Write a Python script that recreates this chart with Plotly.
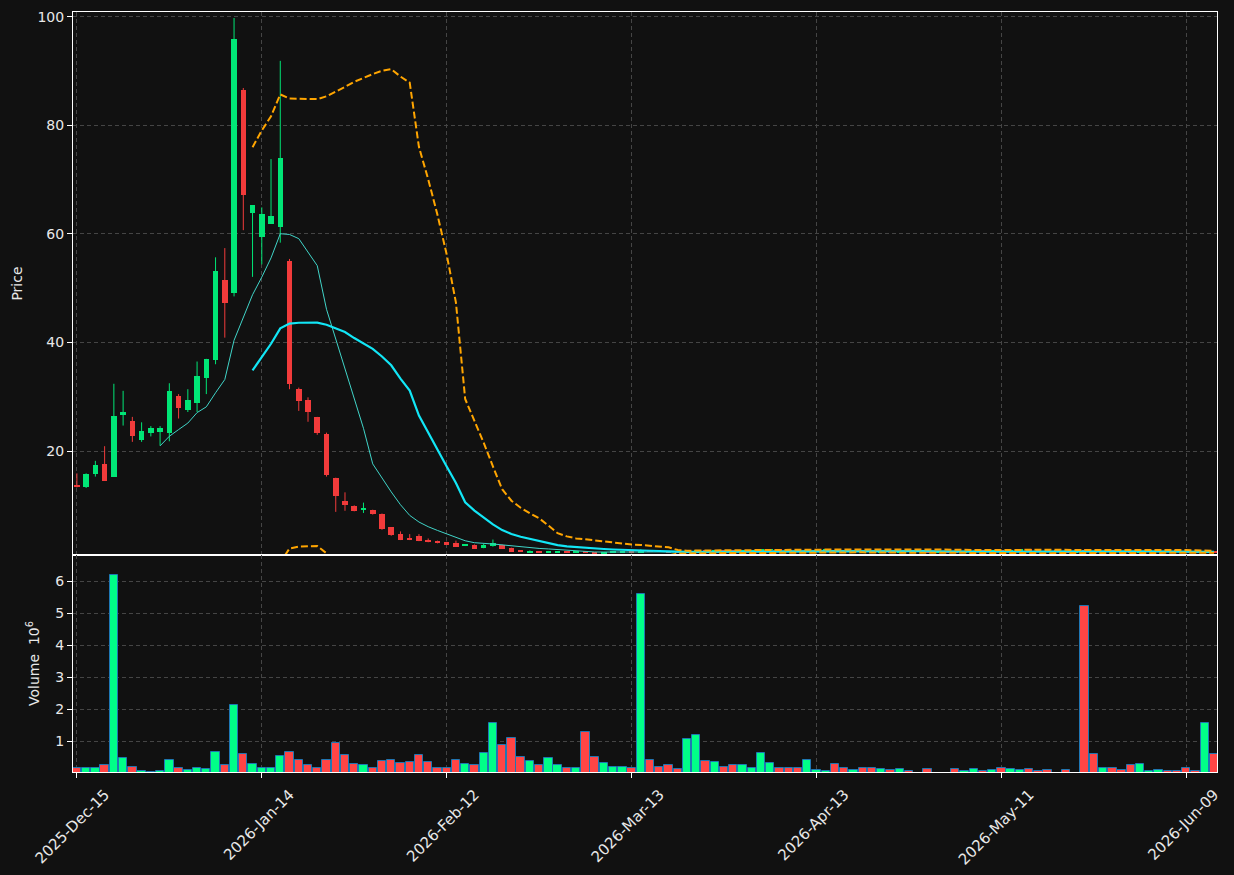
import plotly.graph_objects as go
import pandas as pd

# ---------------- data ----------------
open_ = [13.75, 13.3, 15.8, 17.6, 15.3, 26.6, 25.5, 22.0, 23.4, 23.5,
         23.4, 30.2, 27.6, 28.9, 33.4, 36.8, 51.6, 49.1, 86.6, 63.9,
         59.5, 61.9, 61.3, 55.0, 31.4, 29.4, 26.2, 23.2, 15.1, 10.8,
         9.9, 9.2, 9.1, 8.4, 6.0, 4.7, 4.0, 4.4, 3.6, 3.4,
         3.2, 3.0, 2.6, 2.7, 2.2, 2.5, 2.7, 2.1, 1.6, 1.3,
         1.45, 1.35, 1.4, 1.5, 1.35, 1.50, 1.32, 1.22, 1.32, 1.38,
         1.45, 1.36, 1.62, 1.50, 1.42, 1.36, 1.33, 1.55, 1.70, 1.58,
         1.66, 1.56, 1.50, 1.58, 1.62, 1.80, 1.80, 1.70, 1.58, 1.45,
         1.62, 1.70, 1.78, 1.55, 1.42, 1.55, 1.40, 1.30, 1.48, 1.38,
         1.60, 1.48, 1.42, 1.30, 1.40, 1.36, 1.25, 1.40, 1.62, 1.52,
         1.72, 1.55, 1.70, 1.85, 1.68, 1.58, 1.48, 1.45, 1.35, 1.80,
         1.50, 1.38, 1.55, 1.45, 1.40, 1.28, 1.45, 1.50, 1.58, 1.52,
         1.45, 1.35, 1.30, 1.52]
high_ = [15.9, 15.9, 18.2, 20.9, 32.4, 31.1, 26.3, 25.3, 24.6, 24.6,
         32.5, 30.5, 31.4, 36.5, 37.0, 55.7, 57.4, 99.8, 86.9, 65.3,
         64.9, 73.8, 91.9, 55.4, 31.7, 29.9, 26.3, 23.4, 15.1, 12.4,
         10.0, 10.5, 9.2, 8.5, 6.0, 5.2, 4.7, 4.7, 3.9, 3.5,
         3.3, 3.5, 2.8, 2.8, 2.9, 3.7, 2.8, 2.2, 1.65, 1.7,
         1.5, 1.6, 1.55, 1.55, 1.50, 1.58, 1.36, 1.36, 1.42, 1.50,
         1.48, 1.90, 1.68, 1.54, 1.46, 1.40, 1.60, 1.78, 1.74, 1.70,
         1.69, 1.60, 1.62, 1.66, 1.92, 1.96, 1.84, 1.74, 1.62, 1.68,
         1.75, 1.82, 1.82, 1.60, 1.58, 1.60, 1.44, 1.52, 1.52, 1.64,
         1.64, 1.52, 1.45, 1.44, 1.44, 1.40, 1.43, 1.66, 1.66, 1.76,
         1.76, 1.74, 1.90, 1.88, 1.72, 1.62, 1.50, 1.48, 1.42, 1.95,
         1.54, 1.58, 1.58, 1.48, 1.43, 1.48, 1.53, 1.62, 1.60, 1.55,
         1.48, 1.38, 1.58, 1.55]
low_ = [13.3, 13.2, 15.3, 14.5, 15.3, 24.7, 21.7, 21.7, 22.7, 21.0,
        21.8, 26.0, 27.2, 27.2, 30.5, 36.0, 40.9, 48.5, 60.7, 52.1,
        54.4, 61.9, 58.4, 31.4, 27.4, 25.4, 23.0, 15.3, 8.8, 9.0,
        8.9, 8.6, 8.3, 5.5, 4.4, 3.6, 3.6, 3.4, 3.2, 3.0,
        2.7, 2.4, 2.5, 2.0, 2.1, 2.4, 2.0, 1.4, 1.4, 1.25,
        1.3, 1.3, 1.35, 1.3, 1.30, 1.25, 1.18, 1.19, 1.29, 1.35,
        1.31, 1.33, 1.46, 1.39, 1.33, 1.29, 1.30, 1.52, 1.54, 1.55,
        1.53, 1.47, 1.48, 1.56, 1.60, 1.76, 1.66, 1.55, 1.42, 1.43,
        1.60, 1.68, 1.52, 1.39, 1.40, 1.37, 1.27, 1.28, 1.35, 1.36,
        1.45, 1.40, 1.27, 1.28, 1.33, 1.22, 1.23, 1.38, 1.49, 1.50,
        1.52, 1.53, 1.68, 1.65, 1.55, 1.45, 1.43, 1.33, 1.33, 1.45,
        1.35, 1.36, 1.42, 1.38, 1.26, 1.26, 1.43, 1.48, 1.50, 1.43,
        1.33, 1.28, 1.28, 1.32]
close_ = [13.4, 15.7, 17.4, 14.5, 26.4, 27.2, 22.7, 23.7, 24.3, 24.3,
          31.1, 28.0, 29.4, 33.8, 37.0, 53.1, 47.2, 95.9, 67.2, 65.3,
          63.6, 63.4, 74.0, 32.4, 29.3, 27.2, 23.3, 15.6, 11.8, 10.0,
          9.0, 9.4, 8.4, 5.6, 4.5, 3.6, 3.6, 3.4, 3.2, 3.1,
          2.7, 2.4, 2.7, 2.0, 2.7, 3.0, 2.0, 1.45, 1.45, 1.6,
          1.35, 1.45, 1.5, 1.35, 1.45, 1.30, 1.22, 1.32, 1.38, 1.45,
          1.35, 1.65, 1.50, 1.42, 1.36, 1.32, 1.55, 1.72, 1.58, 1.66,
          1.56, 1.50, 1.58, 1.62, 1.85, 1.90, 1.70, 1.58, 1.45, 1.62,
          1.70, 1.78, 1.55, 1.42, 1.55, 1.40, 1.30, 1.48, 1.38, 1.60,
          1.48, 1.42, 1.30, 1.40, 1.36, 1.25, 1.40, 1.62, 1.52, 1.72,
          1.55, 1.70, 1.85, 1.68, 1.58, 1.48, 1.45, 1.35, 1.40, 1.50,
          1.38, 1.55, 1.45, 1.40, 1.28, 1.45, 1.50, 1.58, 1.52, 1.45,
          1.35, 1.30, 1.52, 1.35]
volume_m = [0.15, 0.15, 0.15, 0.25, 6.19, 0.47, 0.21, 0.06, 0.03, 0.06,
            0.43, 0.15, 0.09, 0.18, 0.12, 0.65, 0.25, 2.13, 0.59, 0.28,
            0.15, 0.18, 0.53, 0.65, 0.40, 0.25, 0.18, 0.40, 0.94, 0.56,
            0.28, 0.25, 0.18, 0.37, 0.40, 0.31, 0.34, 0.56, 0.34, 0.15,
            0.18, 0.40, 0.28, 0.25, 0.62, 1.57, 0.87, 1.09, 0.50, 0.37,
            0.25, 0.47, 0.25, 0.18, 0.15, 1.28, 0.50, 0.31, 0.21, 0.21,
            0.18, 5.59, 0.43, 0.21, 0.25, 0.12, 1.06, 1.19, 0.37, 0.34,
            0.21, 0.25, 0.25, 0.18, 0.62, 0.31, 0.15, 0.18, 0.18, 0.40,
            0.09, 0.06, 0.28, 0.15, 0.09, 0.15, 0.15, 0.12, 0.09, 0.12,
            0.06, 0.02, 0.12, 0.02, 0.02, 0.12, 0.06, 0.12, 0.06, 0.09,
            0.15, 0.12, 0.09, 0.12, 0.06, 0.09, 0.02, 0.09, 0.02, 5.24,
            0.59, 0.18, 0.18, 0.09, 0.25, 0.28, 0.06, 0.09, 0.06, 0.06,
            0.18, 0.06, 1.57, 0.59]
tick_index = [0, 20, 40, 60, 80, 100, 120]
tick_labels = ["2025-Dec-15", "2026-Jan-14", "2026-Feb-12", "2026-Mar-13",
               "2026-Apr-13", "2026-May-11", "2026-Jun-09"]
price_ticks = [20, 40, 60, 80, 100]
volume_ticks = [1, 2, 3, 4, 5, 6]

# ---------------- styles ----------------
BG = "#111111"
GRID = "#454545"
TXT = "#e8e8e8"
UP = "#00e676"
DOWN = "#f23b3b"
VUP = "#00ff88"
VDOWN = "#ff4545"
VEDGE = "#1f77b4"
MA10C = "#40d4c8"
MA20C = "#12e6f6"
BBC = "#ffa500"

n = len(close_)
idx = list(range(n))
close_s = pd.Series(close_)
ma10 = close_s.rolling(10).mean()
ma20 = close_s.rolling(20).mean()
sd20 = close_s.rolling(20).std(ddof=0)
bb_up = ma20 + 2 * sd20
bb_lo = ma20 - 2 * sd20

is_up = [c >= o for o, c in zip(open_, close_)]
body_base = [min(o, c) for o, c in zip(open_, close_)]
body_h = [max(abs(c - o), 0.15) for o, c in zip(open_, close_)]
body_col = [UP if u else DOWN for u in is_up]
vol_col = [VUP if u else VDOWN for u in is_up]

fig = go.Figure()

for flag, col in ((True, UP), (False, DOWN)):
    wx, wy = [], []
    for i in idx:
        if is_up[i] == flag:
            wx += [i, i, None]
            wy += [low_[i], high_[i], None]
    fig.add_trace(go.Scatter(x=wx, y=wy, mode="lines", line=dict(color=col, width=1),
                             hoverinfo="skip", xaxis="x", yaxis="y"))

fig.add_trace(go.Bar(x=idx, y=body_h, base=body_base, width=0.6,
                     marker=dict(color=body_col, line=dict(width=0)),
                     xaxis="x", yaxis="y"))

fig.add_trace(go.Scatter(x=idx, y=ma10, mode="lines", line=dict(color=MA10C, width=1),
                         xaxis="x", yaxis="y"))
fig.add_trace(go.Scatter(x=idx, y=ma20, mode="lines", line=dict(color=MA20C, width=2.2),
                         xaxis="x", yaxis="y"))
for band in (bb_up, bb_lo):
    fig.add_trace(go.Scatter(x=idx, y=band, mode="lines",
                             line=dict(color=BBC, width=2, dash="7px,3px"),
                             xaxis="x", yaxis="y"))

fig.add_trace(go.Bar(x=idx, y=volume_m, width=0.9,
                     marker=dict(color=vol_col, line=dict(color=VEDGE, width=1)),
                     xaxis="x2", yaxis="y2"))

xr = [-0.42, 123.32]
common_x = dict(range=xr, tickvals=tick_index, showgrid=True, gridcolor=GRID,
                griddash="4px,3px", gridwidth=1, showline=True, linecolor="white",
                linewidth=1, mirror=True, zeroline=False, automargin=False)
common_y = dict(showgrid=True, gridcolor=GRID, griddash="4px,3px", gridwidth=1,
                showline=True, linecolor="white", linewidth=1, mirror=True,
                zeroline=False, ticks="outside", ticklen=5, tickcolor="white",
                tickfont=dict(size=14, color=TXT), automargin=False)

fig.update_layout(
    width=1234, height=875,
    margin=dict(l=73, r=17, t=12, b=103, autoexpand=False),
    paper_bgcolor=BG, plot_bgcolor=BG,
    showlegend=False, barmode="overlay", bargap=0,
    font=dict(family="DejaVu Sans", size=14, color=TXT),
    xaxis=dict(domain=[0, 1], anchor="y", showticklabels=False, ticks="", **common_x),
    xaxis2=dict(domain=[0, 1], anchor="y2", matches="x", ticktext=tick_labels,
                tickangle=-45, ticks="outside", ticklen=5, tickcolor="white",
                tickfont=dict(size=15, color=TXT), ticklabelshift=28,
                ticklabelstandoff=2, **common_x),
    yaxis=dict(domain=[0.2855, 1], anchor="x", range=[0.85, 100.9], tickvals=price_ticks,
               title=dict(text="Price", standoff=11, font=dict(size=14, color=TXT)),
               **common_y),
    yaxis2=dict(domain=[0, 0.2855], anchor="x2", range=[0.04, 6.82], tickvals=volume_ticks,
                title=dict(text="Volume  10<sup>6</sup>", standoff=12,
                           font=dict(size=14, color=TXT)),
                **common_y),
)

fig.write_html("out.html")
